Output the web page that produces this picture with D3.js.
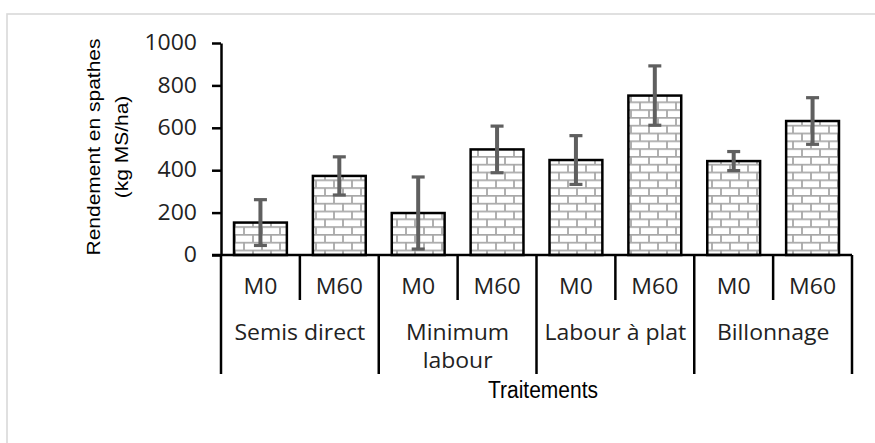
<!DOCTYPE html>
<html>
<head>
<meta charset="utf-8">
<script src="https://cdn.jsdelivr.net/npm/d3@7"></script>
<style>
  body { margin: 0; background: #fff; }
  svg { display: block; }
</style>
</head>
<body>
<svg id="chart" width="875" height="443"></svg>
<script>
// data
var groups = ["Semis direct", "Minimum labour", "Labour à plat", "Billonnage"];
var groupLines = [["Semis direct"], ["Minimum", "labour"], ["Labour à plat"], ["Billonnage"]];
var doses = ["M0", "M60"];
var means = [153, 373, 198, 498, 448, 752, 443, 632];
var errors = [108, 90, 170, 110, 115, 140, 45, 110];
var yTicks = [0, 200, 400, 600, 800, 1000];

var svg = d3.select("#chart");
var labelFont = "'Open Sans', sans-serif";
var titleFont = "'Liberation Sans', Arial, sans-serif";

// frame
svg.append("rect")
    .attr("x", 7).attr("y", 14)
    .attr("width", 900).attr("height", 460)
    .attr("fill", "none")
    .attr("stroke", "#d9d9d9")
    .attr("stroke-width", 1.6);

// brick pattern
var defs = svg.append("defs");
var pat = defs.append("pattern")
    .attr("id", "brick")
    .attr("patternUnits", "userSpaceOnUse")
    .attr("width", 18).attr("height", 15.6);
pat.append("rect").attr("width", 18).attr("height", 15.6).attr("fill", "#fff");
pat.append("path")
    .attr("d", "M0,0.9H18M0,8.7H18M1,0V7.8M10,7.8V15.6")
    .attr("stroke", "#a8a8a8")
    .attr("stroke-width", 1.8)
    .attr("fill", "none");

var x0 = 221, x1 = 852;
var outer = d3.scaleBand().domain(groups).range([x0, x1]);
var inner = d3.scaleBand().domain(doses).range([0, outer.bandwidth()])
    .paddingInner(0.33).paddingOuter(0.165);
var y = d3.scaleLinear().domain([0, 1000]).range([255, 43]);

var rows = [];
groups.forEach(function(g, gi) {
    doses.forEach(function(d, di) {
        var k = gi * doses.length + di;
        rows.push({ group: g, dose: d, mean: means[k], err: errors[k] });
    });
});

// y axis
var yAxis = svg.append("g")
    .attr("transform", "translate(" + x0 + ",0)")
    .call(d3.axisLeft(y).tickValues(yTicks).tickFormat(d3.format("d"))
        .tickSize(9).tickSizeOuter(0).tickPadding(15));
yAxis.select(".domain").attr("stroke", "#000").attr("stroke-width", 2.5);
yAxis.selectAll(".tick line").attr("stroke", "#000").attr("stroke-width", 2.5);
yAxis.selectAll(".tick text")
    .attr("font-family", labelFont)
    .attr("font-size", 23)
    .attr("fill", "#222")
    .attr("transform", "scale(1,0.92)");

// bars
var bars = svg.append("g");
bars.selectAll("rect").data(rows).enter().append("rect")
    .attr("x", function(d) { return outer(d.group) + inner(d.dose); })
    .attr("y", function(d) { return y(d.mean); })
    .attr("width", inner.bandwidth())
    .attr("height", function(d) { return y(0) - y(d.mean); })
    .attr("fill", "url(#brick)")
    .attr("stroke", "#000")
    .attr("stroke-width", 2.5);

// error bars
var eb = svg.append("g").attr("stroke", "#5f5f5f");
function cx(d) { return outer(d.group) + inner(d.dose) + inner.bandwidth() / 2; }
eb.selectAll("line.v").data(rows).enter().append("line")
    .attr("class", "v")
    .attr("x1", cx).attr("x2", cx)
    .attr("y1", function(d) { return y(d.mean + d.err); })
    .attr("y2", function(d) { return y(d.mean - d.err); })
    .attr("stroke-width", 4);
[1, -1].forEach(function(s) {
    eb.selectAll("line.c" + (s > 0 ? "t" : "b")).data(rows).enter().append("line")
        .attr("x1", function(d) { return cx(d) - 6.5; })
        .attr("x2", function(d) { return cx(d) + 6.5; })
        .attr("y1", function(d) { return y(d.mean + s * d.err); })
        .attr("y2", function(d) { return y(d.mean + s * d.err); })
        .attr("stroke-width", 3.2);
});

// category axis with the multi-level dividers
var ax = svg.append("g").attr("stroke", "#000").attr("stroke-width", 2.5);
ax.append("line").attr("x1", 212).attr("x2", x1).attr("y1", y(0)).attr("y2", y(0));
groups.forEach(function(g) {
    ax.append("line")
        .attr("x1", outer(g)).attr("x2", outer(g))
        .attr("y1", y(0)).attr("y2", 374);
    ax.append("line")
        .attr("x1", outer(g) + outer.bandwidth() / 2).attr("x2", outer(g) + outer.bandwidth() / 2)
        .attr("y1", y(0)).attr("y2", 300);
});
ax.append("line").attr("x1", x1).attr("x2", x1).attr("y1", y(0)).attr("y2", 374);

function addText(parent, txt, x, yy, font, size, sy, anchor) {
    return parent.append("text")
        .attr("transform", "translate(" + x + "," + yy + ") scale(1," + sy + ")")
        .attr("text-anchor", anchor || "middle")
        .attr("font-family", font)
        .attr("font-size", size)
        .attr("fill", "#222")
        .text(txt);
}

var lab = svg.append("g");
rows.forEach(function(d) {
    addText(lab, d.dose, cx(d), 294, labelFont, 23, 0.92);
});
groups.forEach(function(g, gi) {
    groupLines[gi].forEach(function(line, li) {
        addText(lab, line, outer(g) + outer.bandwidth() / 2, 340 + li * 28, labelFont, 23, 0.92);
    });
});

// axis titles
addText(svg, "Traitements", 543, 398, titleFont, 21, 1.1).attr("fill", "#000");
var yt = svg.append("g").attr("transform", "translate(0,147) rotate(-90)");
addText(yt, "Rendement en spathes", 0, 100, titleFont, 21, 0.9).attr("fill", "#000");
addText(yt, "(kg MS/ha)", 0, 128, titleFont, 21, 0.9).attr("fill", "#000");
</script>
</body>
</html>
